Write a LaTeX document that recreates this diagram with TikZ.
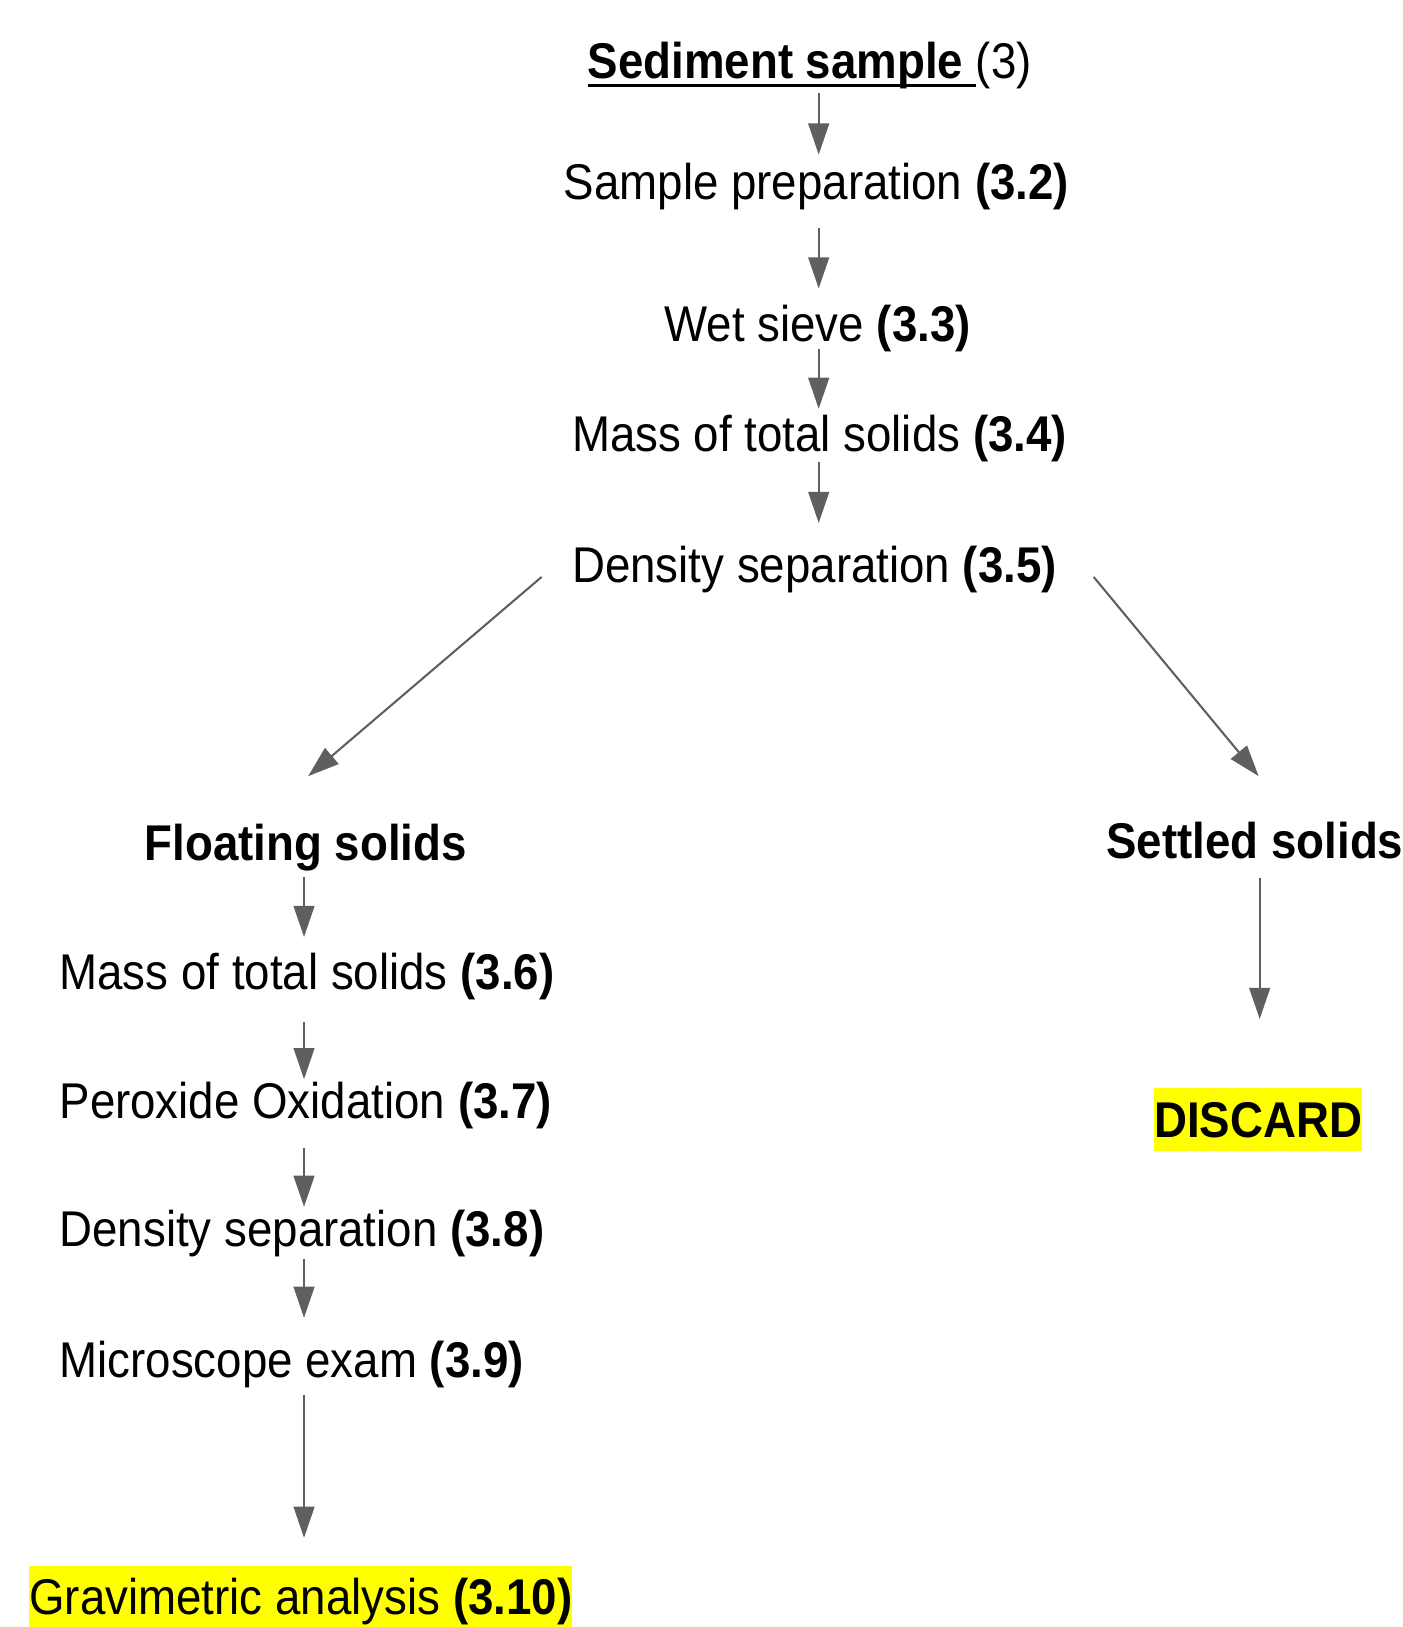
\documentclass[tikz,border=0pt]{standalone}
\usepackage{fontspec}
\setmainfont{Liberation Sans}
\usetikzlibrary{arrows.meta}
\definecolor{arrgray}{RGB}{95,95,95}
\definecolor{hiyellow}{RGB}{255,255,0}
\newsavebox\ulsavebox
\newcommand\ulpart[1]{\sbox\ulsavebox{#1}\rlap{\rule[-3.4pt]{\wd\ulsavebox}{1.2pt}}\usebox\ulsavebox}
\newcommand\tall[1]{\scalebox{1}[1.1]{#1}}
\tikzset{
  lbl/.style={inner sep=0pt, anchor=base west, font=\fontsize{22}{26}\selectfont, text=black},
  hl/.style={lbl, fill=hiyellow, text height=23.5pt, text depth=6.5pt},
  arr/.style={draw=arrgray, line width=1pt, -{Triangle[length=15pt,width=10pt]}}
}
\begin{document}
\begin{tikzpicture}[x=0.5pt, y=-0.5pt]
\useasboundingbox (0,0) rectangle (1352,1568);
% centre column
\node[lbl] (sed)   at (566,76)  {\tall{\ulpart{\textbf{Sediment sample\ }}(3)}};
\node[lbl] (prep)  at (543,192) {\tall{Sample preparation \textbf{(3.2)}}};
\node[lbl] (sieve) at (640,329) {\tall{Wet sieve \textbf{(3.3)}}};
\node[lbl] (mass1) at (551,435) {\tall{Mass of total solids \textbf{(3.4)}}};
\node[lbl] (dens1) at (551,561) {\tall{Density separation \textbf{(3.5)}}};
% left column
\node[lbl] (float) at (139,829)  {\tall{\textbf{Floating solids}}};
\node[lbl] (mass2) at (57,954)   {\tall{Mass of total solids \textbf{(3.6)}}};
\node[lbl] (perox) at (57,1078)  {\tall{Peroxide Oxidation \textbf{(3.7)}}};
\node[lbl] (dens2) at (57,1201)  {\tall{Density separation \textbf{(3.8)}}};
\node[lbl] (micro) at (57,1328)  {\tall{Microscope exam \textbf{(3.9)}}};
\node[hl]  (grav)  at (28,1556)  {\tall{Gravimetric analysis \textbf{(3.10)}}};
% right column
\node[lbl] (settled) at (1066,827) {\tall{\textbf{Settled solids}}};
\node[hl]  (discard) at (1112,1096) {\tall{\textbf{DISCARD}}};
% connector end points
\coordinate (a1s) at (789,90);   \coordinate (a1e) at (789,149);
\coordinate (a2s) at (789,220);  \coordinate (a2e) at (789,278);
\coordinate (a3s) at (789,336);  \coordinate (a3e) at (789,394);
\coordinate (a4s) at (789,445);  \coordinate (a4e) at (789,504);
\coordinate (dls) at (522,556);  \coordinate (dle) at (297,748);
\coordinate (drs) at (1054,556); \coordinate (dre) at (1213,748);
\coordinate (l1s) at (293,845);  \coordinate (l1e) at (293,903);
\coordinate (l2s) at (293,985);  \coordinate (l2e) at (293,1040);
\coordinate (l3s) at (293,1106); \coordinate (l3e) at (293,1163);
\coordinate (l4s) at (293,1213); \coordinate (l4e) at (293,1270);
\coordinate (l5s) at (293,1344); \coordinate (l5e) at (293,1482);
\coordinate (r1s) at (1214,846); \coordinate (r1e) at (1214,982);
% connectors
\draw[arr] (a1s) -- (a1e);
\draw[arr] (a2s) -- (a2e);
\draw[arr] (a3s) -- (a3e);
\draw[arr] (a4s) -- (a4e);
\draw[arr] (dls) -- (dle);
\draw[arr] (drs) -- (dre);
\draw[arr] (l1s) -- (l1e);
\draw[arr] (l2s) -- (l2e);
\draw[arr] (l3s) -- (l3e);
\draw[arr] (l4s) -- (l4e);
\draw[arr] (l5s) -- (l5e);
\draw[arr] (r1s) -- (r1e);
\end{tikzpicture}
\end{document}
